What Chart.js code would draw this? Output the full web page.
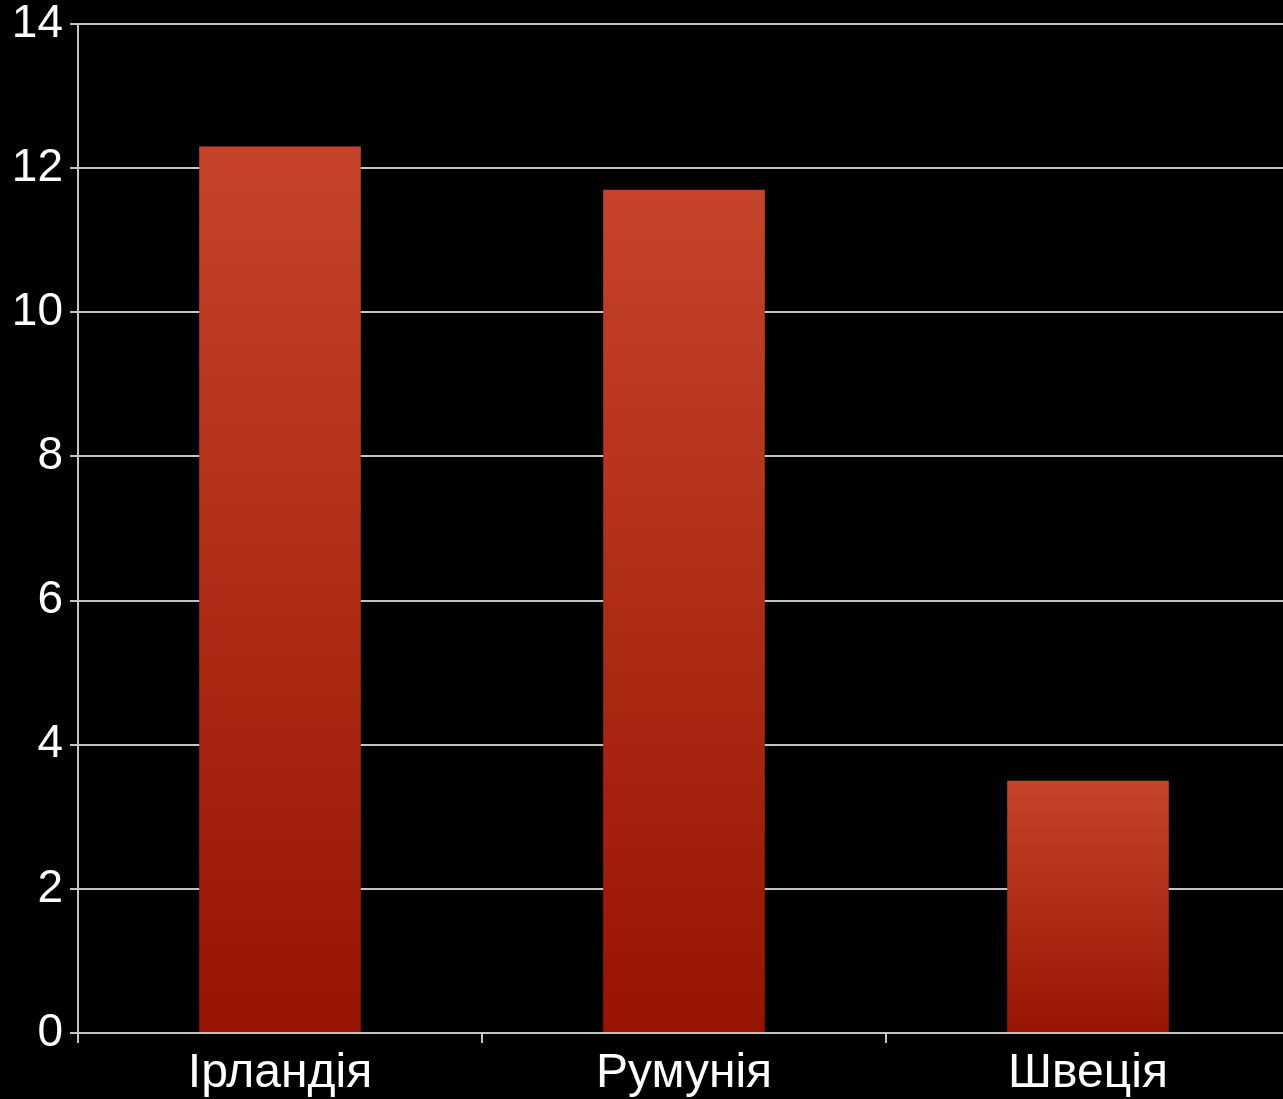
<!DOCTYPE html>
<html>
<head>
<meta charset="utf-8">
<script src="https://cdn.jsdelivr.net/npm/chart.js@4"></script>
<style>
  html, body { margin: 0; padding: 0; background: #000; overflow: hidden; }
  #wrap { width: 1290px; height: 1099px; }
</style>
</head>
<body>
<div id="wrap"><canvas id="chart"></canvas></div>
<script>
const countries = ["Ірландія", "Румунія", "Швеція"];
const values = [12.3, 11.7, 3.5];
const yTicks = [0, 2, 4, 6, 8, 10, 12, 14];

const gridColor = "#c4c4c4";

// each bar gets its own top-to-bottom gradient
const barGradient = (ctx) => {
  const chart = ctx.chart;
  const y = chart.scales.y;
  if (!y || !chart.chartArea || ctx.dataIndex === undefined) return "#b02a14";
  const top = y.getPixelForValue(values[ctx.dataIndex]);
  const bottom = y.getPixelForValue(0);
  if (!Number.isFinite(top) || !Number.isFinite(bottom)) return "#b02a14";
  const g = chart.ctx.createLinearGradient(0, top, 0, bottom);
  g.addColorStop(0, "rgb(198, 68, 42)");
  g.addColorStop(1, "rgb(152, 20, 2)");
  return g;
};

new Chart(document.getElementById("chart"), {
  type: "bar",
  data: {
    labels: countries,
    datasets: [
      {
        data: values,
        backgroundColor: barGradient,
        borderWidth: 0,
        categoryPercentage: 1,
        barPercentage: 0.4,
      },
    ],
  },
  options: {
    responsive: true,
    maintainAspectRatio: false,
    animation: false,
    layout: { padding: { top: 24, right: 0, bottom: 0, left: 0 } },
    plugins: {
      legend: { display: false },
      tooltip: { enabled: false },
    },
    scales: {
      y: {
        min: 0,
        max: 14,
        afterBuildTicks: (scale) => {
          scale.ticks = yTicks.map((v) => ({ value: v }));
        },
        afterFit: (scale) => {
          scale.width = 78;
          scale.paddingTop = 0;
          scale.paddingBottom = 0;
        },
        ticks: {
          color: "#fff",
          padding: 7,
          font: { family: "Liberation Sans, Arial", size: 46 },
        },
        grid: {
          color: gridColor,
          lineWidth: 2,
          tickLength: 8,
        },
        border: { color: gridColor, width: 2 },
      },
      x: {
        afterFit: (scale) => {
          scale.height = 66;
          scale.paddingLeft = 0;
          scale.paddingRight = 0;
        },
        ticks: {
          color: "#fff",
          padding: 2,
          font: { family: "Liberation Sans, Arial", size: 48 },
        },
        grid: {
          offset: true,
          drawOnChartArea: false,
          color: gridColor,
          lineWidth: 2,
          tickLength: 10,
        },
        border: { color: gridColor, width: 2 },
      },
    },
  },
});
</script>
</body>
</html>
